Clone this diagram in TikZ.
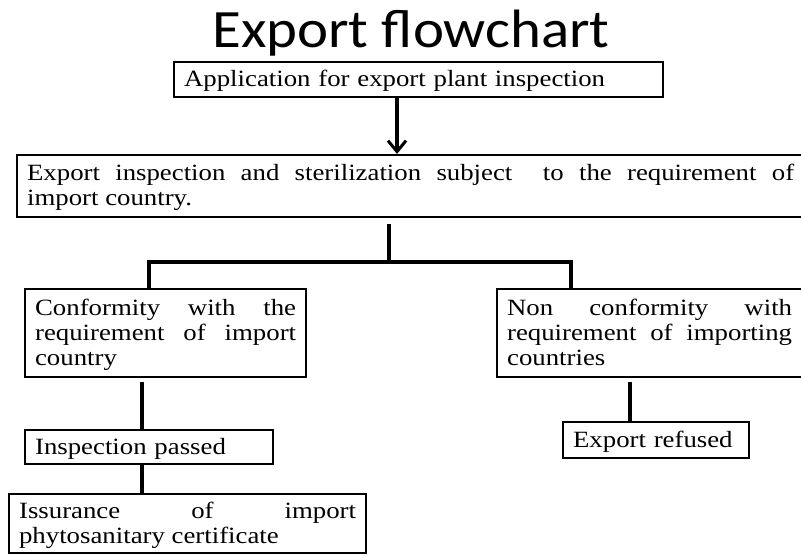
\documentclass[tikz,border=0pt]{standalone}
\usepackage{fontspec}
\setmainfont{Liberation Serif}[FakeStretch=1.15]
\newfontfamily\titlefont{Carlito}[FakeStretch=1.09]
\usetikzlibrary{arrows.meta}
\tolerance=10000
\newcommand{\boxstrut}{\rule[-3.5pt]{0pt}{22.5pt}}

\begin{document}
\begin{tikzpicture}[x=1pt, y=-1pt,
  box/.style={draw=black, line width=2.2pt, anchor=north west, inner xsep=10pt, inner ysep=2pt,
    font=\fontsize{23.3}{25}\selectfont, align=justify},
  link/.style={line width=3.4pt},
]
  \useasboundingbox (0,0) rectangle (801,555);
  \clip (0,0) rectangle (801,555);

  \node[font=\titlefont\fontsize{54}{60}\selectfont, anchor=base](Title) at (411,47){Export flowchart};

  \node[box, text width=469pt, minimum height=35pt, align=left](Apply) at (173,61){\boxstrut Application for export plant inspection};
  \node[box, text width=767pt, minimum height=62pt](Check) at (16,154){\boxstrut Export inspection and sterilization subject\ \ to the requirement of\linebreak import country.\boxstrut};
  \node[box, text width=261pt, minimum height=88pt](Conform) at (24,288){\boxstrut Conformity with the\linebreak requirement of import\linebreak country\boxstrut};
  \node[box, text width=285pt, minimum height=88pt](NonConform) at (496,288){\boxstrut Non conformity with\linebreak requirement of importing\linebreak countries\boxstrut};
  \node[box, text width=228pt, minimum height=34pt, align=left](Passed) at (24,429){\boxstrut Inspection passed};
  \node[box, text width=337pt, minimum height=59pt](Issue) at (8,493){\boxstrut Issurance of import\linebreak phytosanitary certificate\boxstrut};
  \node[box, text width=166pt, minimum height=36pt, align=left](Refused) at (562,421){\boxstrut Export refused};

  \coordinate (ArrowX) at (397,0);
  \coordinate (Fork) at (389,262);
  \coordinate (LeftLeg) at (149,262);
  \coordinate (RightLeg) at (571,262);
  \coordinate (LeftDrop) at (142,382);
  \coordinate (RightDrop) at (630,382);

  \draw[link, -{Straight Barb[length=11pt, width=18pt, line width=3pt]}] (Apply.south -| ArrowX) -- (Check.north -| ArrowX);
  \draw[link] (Check.south -| Fork) ++(0,6) -- (Fork);
  \draw[link] (Conform.north -| LeftLeg) -- (LeftLeg) -- (RightLeg) -- (NonConform.north -| RightLeg);
  \draw[link] (LeftDrop) -- (LeftDrop |- Passed.north);
  \draw[link] (Passed.south -| LeftDrop) -- (Issue.north -| LeftDrop);
  \draw[link] (RightDrop) -- (RightDrop |- Refused.north);
\end{tikzpicture}
\end{document}
